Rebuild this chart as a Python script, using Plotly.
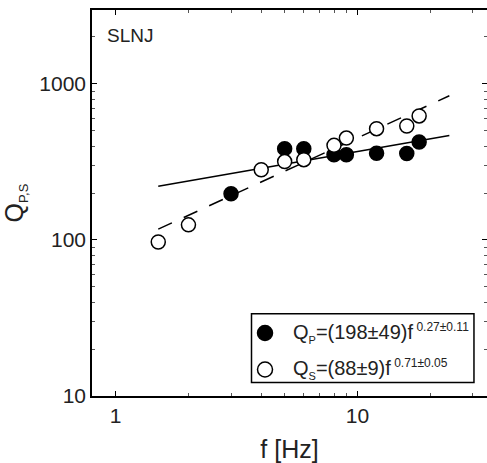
import plotly.graph_objects as go

# Data
f_p = [3, 5, 6, 8, 9, 12, 16, 18]
q_p = [198, 385, 385, 352, 352, 360, 358, 425]
f_s = [1.5, 2, 4, 5, 6, 8, 9, 12, 16, 18]
q_s = [97, 125, 282, 318, 327, 404, 450, 517, 538, 624]

# Fit parameters shown in the legend
qp_coef, qp_exp = 198, 0.27
qs_coef, qs_exp = 88, 0.71
fit_f = [1.5, 24]

x_ticks = [1, 10]
x_minor = [2, 3, 4, 5, 6, 7, 8, 9, 20, 30]
y_ticks = [10, 100, 1000]
y_minor = [20, 30, 40, 50, 60, 70, 80, 90, 200, 300, 400, 500, 600, 700, 800, 900, 2000, 3000]

legend_p = ("Q<sub><span style='font-size:11px'>P</span></sub>=(198±49)f"
            "<sup><span style='font-size:12px'> 0.27±0.11</span></sup>")
legend_s = ("Q<sub><span style='font-size:11px'>S</span></sub>=(88±9)f"
            "<sup><span style='font-size:12px'> 0.71±0.05</span></sup>")

FONT = "Liberation Sans, Arial, sans-serif"
TXT = "#222"

fig = go.Figure()
fig.add_trace(go.Scatter(x=fit_f, y=[qp_coef * f ** qp_exp for f in fit_f], mode="lines",
                         line=dict(color="black", width=1.5), showlegend=False, hoverinfo="skip"))
fig.add_trace(go.Scatter(x=fit_f, y=[qs_coef * f ** qs_exp for f in fit_f], mode="lines",
                         line=dict(color="black", width=1.5, dash="15px,13px"), showlegend=False,
                         hoverinfo="skip"))
fig.add_trace(go.Scatter(
    x=f_p, y=q_p, mode="markers", showlegend=False, name="Q_P",
    marker=dict(symbol="circle", size=14, color="black", line=dict(color="black", width=1.5))))
fig.add_trace(go.Scatter(
    x=f_s, y=q_s, mode="markers", showlegend=False, name="Q_S",
    marker=dict(symbol="circle", size=14, color="white", line=dict(color="black", width=1.5))))

axis_common = dict(showline=True, linecolor="black", linewidth=1.5, mirror="allticks",
                   ticks="inside", ticklen=5, tickwidth=1, tickcolor="black",
                   showgrid=False, zeroline=False, automargin=False,
                   tickfont=dict(family=FONT, size=21, color=TXT))
fig.update_xaxes(type="log", range=[-0.098, 1.536], tickvals=x_ticks, ticktext=[str(v) for v in x_ticks],
                 minor=dict(tickvals=x_minor, ticks="inside", ticklen=3, tickcolor="#555", showgrid=False),
                 title=dict(text="f [Hz]", font=dict(family=FONT, size=25, color=TXT), standoff=15),
                 **axis_common)
fig.update_yaxes(type="log", range=[1, 3.474], tickvals=y_ticks, ticktext=[str(v) for v in y_ticks],
                 minor=dict(tickvals=y_minor, ticks="inside", ticklen=3, tickcolor="#555", showgrid=False),
                 title=dict(text="Q<sub><span style='font-size:13px'>P,S</span></sub>",
                            font=dict(family=FONT, size=25, color=TXT), standoff=10),
                 **axis_common)

fig.add_annotation(text="SLNJ", xref="paper", yref="paper", x=0.033, y=0.935,
                   xanchor="left", yanchor="middle", showarrow=False,
                   font=dict(family=FONT, size=19, color=TXT))

# Legend drawn as a box with symbols and texts (paper coordinates)
fig.add_shape(type="rect", xref="paper", yref="paper", x0=0.4038, x1=0.967, y0=0.035, y1=0.2132,
              line=dict(color="black", width=1.5), fillcolor="white", layer="above")
legend_rows = [(0.1632, "black", legend_p), (0.0687, "white", legend_s)]
for ypos, fill, label in legend_rows:
    fig.add_shape(type="circle", xref="paper", yref="paper", xsizemode="pixel", ysizemode="pixel",
                  xanchor=0.438, yanchor=ypos, x0=-7.5, x1=7.5, y0=-7.5, y1=7.5,
                  fillcolor=fill, line=dict(color="black", width=1.5), layer="above")
    fig.add_annotation(text=label, xref="paper", yref="paper", x=0.503, y=ypos,
                       xanchor="left", yanchor="middle", showarrow=False,
                       font=dict(family=FONT, size=20, color=TXT))

fig.update_layout(
    width=487, height=463,
    margin=dict(l=92, r=0, t=10, b=67, autoexpand=False),
    paper_bgcolor="white", plot_bgcolor="white",
    showlegend=False,
)

fig.write_html("out.html", config={"displayModeBar": False},
               post_script="document.body.style.margin='0px';")
